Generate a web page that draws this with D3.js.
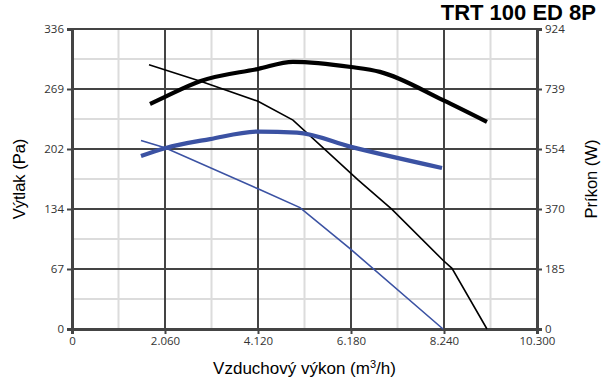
<!DOCTYPE html>
<html>
<head>
<meta charset="utf-8">
<script src="https://cdn.jsdelivr.net/npm/d3@7"></script>
<style>
  body { margin: 0; background: #fff; }
  svg { display: block; }
</style>
</head>
<body>
<div id="chart"></div>
<script>
// tick values of the three axes
const xTicks = [0, 2060, 4120, 6180, 8240, 10300];
const yTicks = [0, 67.2, 134.4, 201.6, 268.8, 336];
const yTickLabels = ['0', '67', '134', '202', '269', '336'];
const pTicks = [0, 184.8, 369.6, 554.4, 739.2, 924];
const pTickLabels = ['0', '185', '370', '554', '739', '924'];

// black curves (pressure Pa, power W)
const blackFlow = [1706, 2880, 4120, 4895, 6335, 7088, 8218, 8417, 9192];
const blackPressure = [296, 277, 255, 234, 167, 134, 77, 68, 0];
const blackPowerFlow = [1728, 2060, 2835, 4120, 4895, 6180, 6822, 8218, 9192];
const blackPower = [693, 715, 763, 801, 823, 807, 792, 705, 638];

// blue curves
const blueFlow = [1528, 2060, 4120, 5050, 6158, 8218];
const bluePressure = [211, 203, 157, 136, 90, 0];
const bluePowerFlow = [1528, 2060, 3057, 4120, 4984, 6180, 8196];
const bluePower = [533, 557, 585, 608, 605, 561, 496];

function main() {
    const width = 606, height = 386;
    const left = 72, right = 537, top = 29, bottom = 329;

    const svg = d3.select('#chart')
        .append('svg')
        .attr('width', width)
        .attr('height', height);

    const x = d3.scaleLinear().domain([0, 10300]).range([left, right]);
    const y = d3.scaleLinear().domain([0, 336]).range([bottom, top]);
    const yP = d3.scaleLinear().domain([0, 924]).range([bottom, top]);

    // minor grid (half steps)
    const xMinor = d3.range(5).map(i => (xTicks[i] + xTicks[i + 1]) / 2);
    const yMinor = d3.range(5).map(i => (yTicks[i] + yTicks[i + 1]) / 2);
    svg.append('g').selectAll('line')
        .data(xMinor)
        .enter()
        .append('line')
        .attr('x1', d => x(d)).attr('x2', d => x(d))
        .attr('y1', top).attr('y2', bottom)
        .attr('stroke', '#dcdcdc').attr('stroke-width', 2);
    svg.append('g').selectAll('line')
        .data(yMinor)
        .enter()
        .append('line')
        .attr('y1', d => y(d)).attr('y2', d => y(d))
        .attr('x1', left).attr('x2', right)
        .attr('stroke', '#dcdcdc').attr('stroke-width', 2);

    // major grid
    svg.append('g').selectAll('line')
        .data(xTicks)
        .enter()
        .append('line')
        .attr('x1', d => x(d)).attr('x2', d => x(d))
        .attr('y1', top).attr('y2', bottom)
        .attr('stroke', '#444').attr('stroke-width', 2);
    svg.append('g').selectAll('line')
        .data(yTicks)
        .enter()
        .append('line')
        .attr('y1', d => y(d)).attr('y2', d => y(d))
        .attr('x1', left).attr('x2', right)
        .attr('stroke', '#444').attr('stroke-width', 2);

    // axes
    const fmt = d3.format(',');
    const xAxis = d3.axisBottom(x).tickValues(xTicks).tickSize(5).tickPadding(3)
        .tickFormat(d => fmt(d).replace(',', '.'));
    const yAxis = d3.axisLeft(y).tickValues(yTicks).tickSize(5).tickPadding(3)
        .tickFormat((d, i) => yTickLabels[i]);
    const pAxis = d3.axisRight(yP).tickValues(pTicks).tickSize(5).tickPadding(3)
        .tickFormat((d, i) => pTickLabels[i]);

    function style(g) {
        g.select('.domain').attr('stroke', '#444').attr('stroke-width', 3);
        g.selectAll('.tick line').attr('stroke', '#444').attr('stroke-width', 2);
        g.selectAll('.tick text')
            .attr('fill', '#333')
            .style('font-family', '"Open Sans", sans-serif')
            .style('font-size', '11.5px');
    }
    svg.append('g').attr('transform', `translate(0,${bottom})`).call(xAxis).call(style);
    svg.append('g').attr('transform', `translate(${left},0)`).call(yAxis).call(style);
    svg.append('g').attr('transform', `translate(${right},0)`).call(pAxis).call(style);

    // curves
    const lineY = d3.line().x(d => x(d[0])).y(d => y(d[1]));
    const lineP = d3.line().x(d => x(d[0])).y(d => yP(d[1])).curve(d3.curveMonotoneX);
    const blue = '#3b52a3';

    svg.append('path')
        .datum(d3.zip(blueFlow, bluePressure))
        .attr('d', lineY)
        .attr('fill', 'none').attr('stroke', blue).attr('stroke-width', 1.6);
    svg.append('path')
        .datum(d3.zip(blackFlow, blackPressure))
        .attr('d', lineY)
        .attr('fill', 'none').attr('stroke', '#000').attr('stroke-width', 1.6);
    svg.append('path')
        .datum(d3.zip(bluePowerFlow, bluePower))
        .attr('d', lineP)
        .attr('fill', 'none').attr('stroke', blue).attr('stroke-width', 4.2);
    svg.append('path')
        .datum(d3.zip(blackPowerFlow, blackPower))
        .attr('d', lineP)
        .attr('fill', 'none').attr('stroke', '#000').attr('stroke-width', 4.2);

    // titles
    svg.append('text')
        .text('TRT 100 ED 8P')
        .attr('x', 596).attr('y', 20)
        .attr('text-anchor', 'end')
        .style('font-family', '"Liberation Sans", Arial, sans-serif')
        .style('font-weight', 'bold')
        .style('font-size', '22px');

    const xt = svg.append('text')
        .attr('x', (left + right) / 2) .attr('y', 374)
        .attr('text-anchor', 'middle')
        .style('font-family', '"Liberation Sans", Arial, sans-serif')
        .style('font-size', '17px');
    xt.append('tspan').text('Vzduchový výkon (m');
    xt.append('tspan').text('3').attr('dy', -6).style('font-size', '11px');
    xt.append('tspan').text('/h)').attr('dy', 6);

    svg.append('text')
        .text('Výtlak (Pa)')
        .attr('transform', `translate(25,${(top + bottom) / 2}) rotate(-90)`)
        .attr('text-anchor', 'middle')
        .style('font-family', '"Liberation Sans", Arial, sans-serif')
        .style('font-size', '16.5px');
    svg.append('text')
        .text('Príkon (W)')
        .attr('transform', `translate(597,${(top + bottom) / 2}) rotate(-90)`)
        .attr('text-anchor', 'middle')
        .style('font-family', '"Liberation Sans", Arial, sans-serif')
        .style('font-size', '16.5px');
}

main();
</script>
</body>
</html>
